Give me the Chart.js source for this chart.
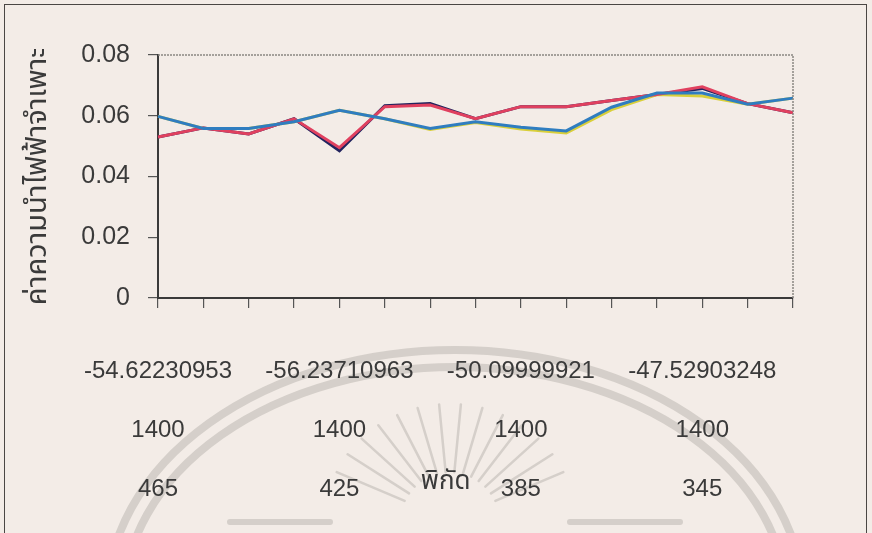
<!DOCTYPE html>
<html>
<head>
<meta charset="utf-8">
<script src="https://cdn.jsdelivr.net/npm/chart.js@4.4.1/dist/chart.umd.min.js"></script>
<style>
  html, body { margin: 0; padding: 0; background: #f3ece7; }
  #wrap { position: relative; width: 872px; height: 533px; overflow: hidden; }
  #frame { position: absolute; left: 4px; top: 4px; width: 861px; height: 600px; border: 1.5px solid #4a4644; }
  canvas { position: absolute; left: 0; top: 0; }
</style>
</head>
<body>
<div id="wrap">
  <div id="frame"></div>
  <canvas id="line-charts" width="872" height="533"></canvas>
</div>
<script>
// category labels (only every 4th point carries a label)
const xCoords = ['-54.62230953', '', '', '', '-56.23710963', '', '', '', '-50.09999921', '', '', '', '-47.52903248', '', ''];
const elevations = ['1400', '', '', '', '1400', '', '', '', '1400', '', '', '', '1400', '', ''];
const distances = ['465', '', '', '', '425', '', '', '', '385', '', '', '', '345', '', ''];

// conductivity series
const navyValues = [0.053, 0.056, 0.054, 0.059, 0.0485, 0.0633, 0.064, 0.059, 0.063, 0.063, 0.065, 0.067, 0.069, 0.064, 0.061];
const redValues = [0.053, 0.056, 0.054, 0.059, 0.0495, 0.063, 0.0635, 0.059, 0.063, 0.063, 0.065, 0.067, 0.0695, 0.064, 0.061];
const yellowValues = [0.0598, 0.0558, 0.0558, 0.058, 0.0618, 0.059, 0.0555, 0.0578, 0.0556, 0.0543, 0.062, 0.067, 0.0665, 0.0638, 0.0658];
const blueValues = [0.0598, 0.0558, 0.0558, 0.058, 0.0618, 0.059, 0.0558, 0.058, 0.0562, 0.055, 0.0628, 0.0675, 0.0675, 0.0638, 0.0658];

const yTitle = 'ค่าความนำไฟฟ้าจำเพาะ';
const xTitle = 'พิกัด';

const numFont = "'Liberation Sans', Arial, sans-serif";
const thaiFont = "'Noto Sans Thai', 'Loma', 'Garuda', 'Noto Sans', sans-serif";

// faint seal printed behind the chart
const watermark = {
    id: 'watermark',
    beforeDraw(chart) {
        const ctx = chart.ctx;
        ctx.save();
        ctx.strokeStyle = 'rgba(150, 145, 140, 0.32)';
        ctx.lineCap = 'round';
        ctx.lineWidth = 8;
        ctx.beginPath();
        ctx.ellipse(455, 600, 348, 250, 0, Math.PI, 2 * Math.PI);
        ctx.stroke();
        ctx.beginPath();
        ctx.ellipse(455, 600, 331, 233, 0, Math.PI, 2 * Math.PI);
        ctx.stroke();
        // rays
        ctx.lineWidth = 2.5;
        for (let a = -155; a <= -25; a += 10) {
            const r = a * Math.PI / 180;
            ctx.beginPath();
            ctx.moveTo(450 + Math.cos(r) * 50, 522 + Math.sin(r) * 50);
            ctx.lineTo(450 + Math.cos(r) * 125, 522 + Math.sin(r) * 118);
            ctx.stroke();
        }
        ctx.lineWidth = 6;
        ctx.beginPath();
        ctx.moveTo(230, 522); ctx.lineTo(330, 522);
        ctx.moveTo(570, 522); ctx.lineTo(680, 522);
        ctx.stroke();
        ctx.restore();
    }
};

// dotted plot-area border and the x-axis title
const plotExtras = {
    id: 'plotExtras',
    afterDraw(chart) {
        const ctx = chart.ctx;
        const a = chart.chartArea;
        ctx.save();
        ctx.strokeStyle = '#8a8683';
        ctx.lineWidth = 1.5;
        ctx.setLineDash([2, 1]);
        ctx.beginPath();
        ctx.moveTo(a.left, a.top);
        ctx.lineTo(a.right, a.top);
        ctx.lineTo(a.right, a.bottom);
        ctx.stroke();
        ctx.setLineDash([]);
        ctx.fillStyle = '#3a3a3a';
        ctx.font = '26px ' + thaiFont;
        ctx.textAlign = 'center';
        ctx.textBaseline = 'middle';
        ctx.fillText(xTitle, a.left + (a.right - a.left) * 0.453, 484);
        ctx.restore();
    }
};

const ctx = document.getElementById('line-charts').getContext('2d');
new Chart(ctx, {
    type: 'line',
    data: {
        labels: xCoords.map((c, i) => c ? [c, elevations[i], distances[i]] : ''),
        datasets: [{
            label: 'navy',
            data: navyValues,
            borderColor: '#22235e',
            order: 3
        }, {
            label: 'yellow',
            data: yellowValues,
            borderColor: '#d9cf3a',
            order: 2
        }, {
            label: 'red',
            data: redValues,
            borderColor: '#e0405f',
            order: 1
        }, {
            label: 'blue',
            data: blueValues,
            borderColor: '#2f7dc0',
            order: 0
        }]
    },
    options: {
        responsive: false,
        animation: false,
        elements: {
            line: { borderWidth: 3, tension: 0 },
            point: { radius: 0 }
        },
        layout: {
            padding: { left: 10, right: 79, top: 55, bottom: 0 }
        },
        scales: {
            x: {
                offset: false,
                afterFit: (scale) => { scale.height = 235; },
                grid: { drawOnChartArea: false, tickLength: 10, color: '#555', lineWidth: 1.2 },
                border: { color: '#3a3a3a', width: 2 },
                ticks: {
                    autoSkip: false,
                    maxRotation: 0,
                    padding: 34,
                    color: '#3a3a3a',
                    font: { family: numFont, size: 24, lineHeight: 2.45 }
                }
            },
            y: {
                min: 0,
                max: 0.08,
                afterFit: (scale) => { scale.width = 148; },
                grid: { drawOnChartArea: false, tickLength: 10, color: '#555', lineWidth: 1.2 },
                border: { color: '#3a3a3a', width: 2 },
                ticks: {
                    stepSize: 0.02,
                    padding: 18,
                    color: '#3a3a3a',
                    font: { family: numFont, size: 25 }
                },
                title: {
                    display: true,
                    text: yTitle,
                    color: '#3a3a3a',
                    padding: { top: 13, bottom: 0 },
                    font: { family: thaiFont, size: 29, lineHeight: 1.2 }
                }
            }
        },
        plugins: {
            legend: { display: false },
            tooltip: { enabled: false }
        }
    },
    plugins: [watermark, plotExtras]
});
</script>
</body>
</html>
